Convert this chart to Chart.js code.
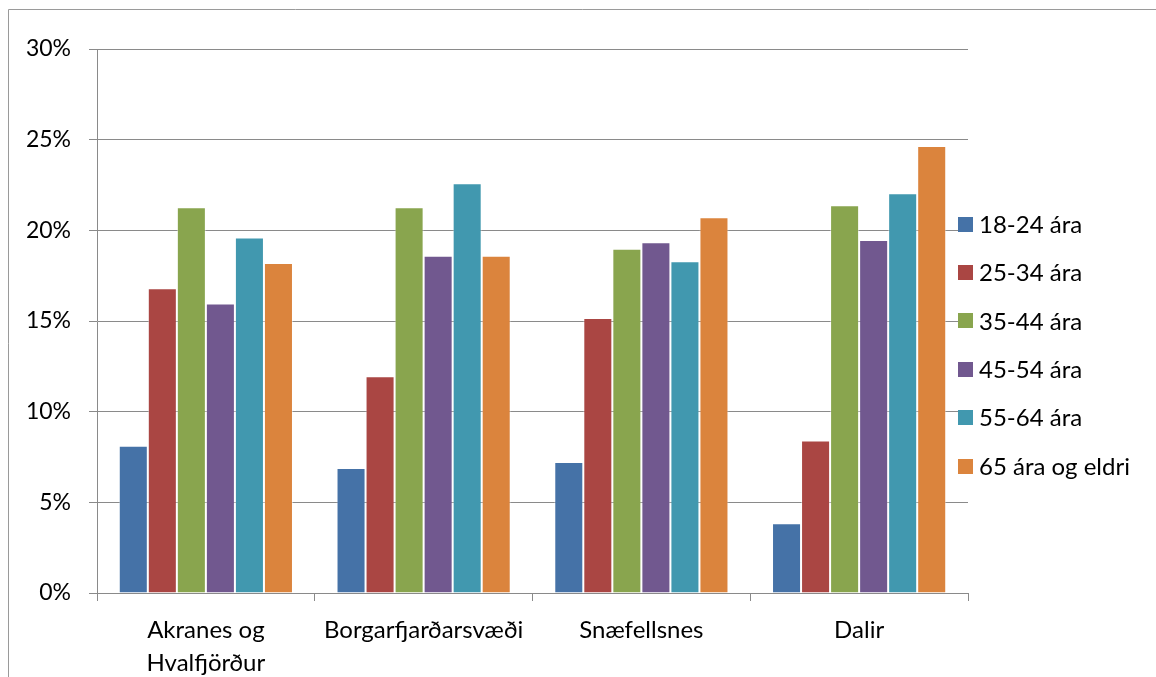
<!DOCTYPE html>
<html>
<head>
<meta charset="utf-8">
<script src="https://cdn.jsdelivr.net/npm/chart.js@4/dist/chart.umd.min.js"></script>
<style>
  html, body { margin: 0; padding: 0; background: #fff; }
  #wrap { position: relative; width: 1156px; height: 677px; }
</style>
</head>
<body>
<div id="wrap"><canvas id="c" width="1156" height="677"></canvas></div>
<script>
// ---- data ----
const categories = [["Akranes og", "Hvalfjörður"], "Borgarfjarðarsvæði", "Snæfellsnes", "Dalir"];
const seriesNames = ["18-24 ára", "25-34 ára", "35-44 ára", "45-54 ára", "55-64 ára", "65 ára og eldri"];
const age18_24 = [8.12, 6.90, 7.22, 3.84];
const age25_34 = [16.80, 11.96, 15.17, 8.41];
const age35_44 = [21.27, 21.27, 18.99, 21.38];
const age45_54 = [15.96, 18.60, 19.34, 19.47];
const age55_64 = [19.61, 22.59, 18.29, 22.04];
const age65plus = [18.20, 18.60, 20.72, 24.65];
const tickLabels = ["0%", "5%", "10%", "15%", "20%", "25%", "30%"];
const seriesColors = ["#4572A7", "#AA4643", "#89A54E", "#71588F", "#4198AF", "#DB843D"];

const seriesValues = [age18_24, age25_34, age35_44, age45_54, age55_64, age65plus];
const FONT = "Lato, 'Open Sans', sans-serif";
const GRID = "#8a8a8a";

const datasets = seriesNames.map((name, i) => ({
  label: name,
  data: seriesValues[i],
  backgroundColor: seriesColors[i],
  borderColor: "rgba(255,255,255,0.45)",
  borderWidth: 1,
  borderSkipped: "bottom",
  categoryPercentage: 0.8,
  barPercentage: 1.0
}));

const frameAndLegend = {
  id: "frameAndLegend",
  beforeDraw(chart) {
    const ctx = chart.ctx;
    ctx.save();
    ctx.fillStyle = "#fff";
    ctx.fillRect(0, 0, chart.width, chart.height);
    ctx.strokeStyle = "#9a9a9a";
    ctx.lineWidth = 1;
    ctx.beginPath();
    ctx.moveTo(8.5, chart.height + 2);
    ctx.lineTo(8.5, 9.5);
    ctx.lineTo(chart.width + 2, 9.5);
    ctx.stroke();
    ctx.restore();
  },
  afterDraw(chart) {
    const ctx = chart.ctx;
    ctx.save();
    ctx.font = "24px " + FONT;
    ctx.textBaseline = "middle";
    ctx.textAlign = "left";
    chart.data.datasets.forEach((ds, i) => {
      const cy = 224 + i * 48.4;
      ctx.fillStyle = ds.backgroundColor;
      ctx.fillRect(958, Math.round(cy - 7.5), 15, 15);
      ctx.fillStyle = "#000";
      ctx.fillText(ds.label, 979, cy + 1);
    });
    ctx.restore();
  }
};

new Chart(document.getElementById("c"), {
  type: "bar",
  data: { labels: categories, datasets: datasets },
  options: {
    responsive: false,
    animation: false,
    devicePixelRatio: 1,
    layout: { padding: { left: 0, right: 188, top: 49, bottom: 0 } },
    plugins: { legend: { display: false }, tooltip: { enabled: false } },
    scales: {
      x: {
        grid: { display: true, drawOnChartArea: false, drawTicks: true, tickLength: 8, color: GRID, offset: true },
        border: { display: true, color: GRID, width: 1 },
        ticks: { color: "#000", padding: 13, maxRotation: 0, autoSkip: false,
                 font: { family: FONT, size: 24, lineHeight: "33px" } },
        afterFit(scale) { scale.height = 84; }
      },
      y: {
        min: 0, max: 30,
        grid: { color: GRID, tickLength: 8, drawTicks: true },
        border: { display: true, color: GRID, width: 1 },
        ticks: { stepSize: 5, color: "#000", padding: 18,
                 font: { family: FONT, size: 23 },
                 callback: (v, idx) => tickLabels[idx] },
        afterFit(scale) { scale.width = 97; }
      }
    }
  },
  plugins: [frameAndLegend]
});
</script>
</body>
</html>
